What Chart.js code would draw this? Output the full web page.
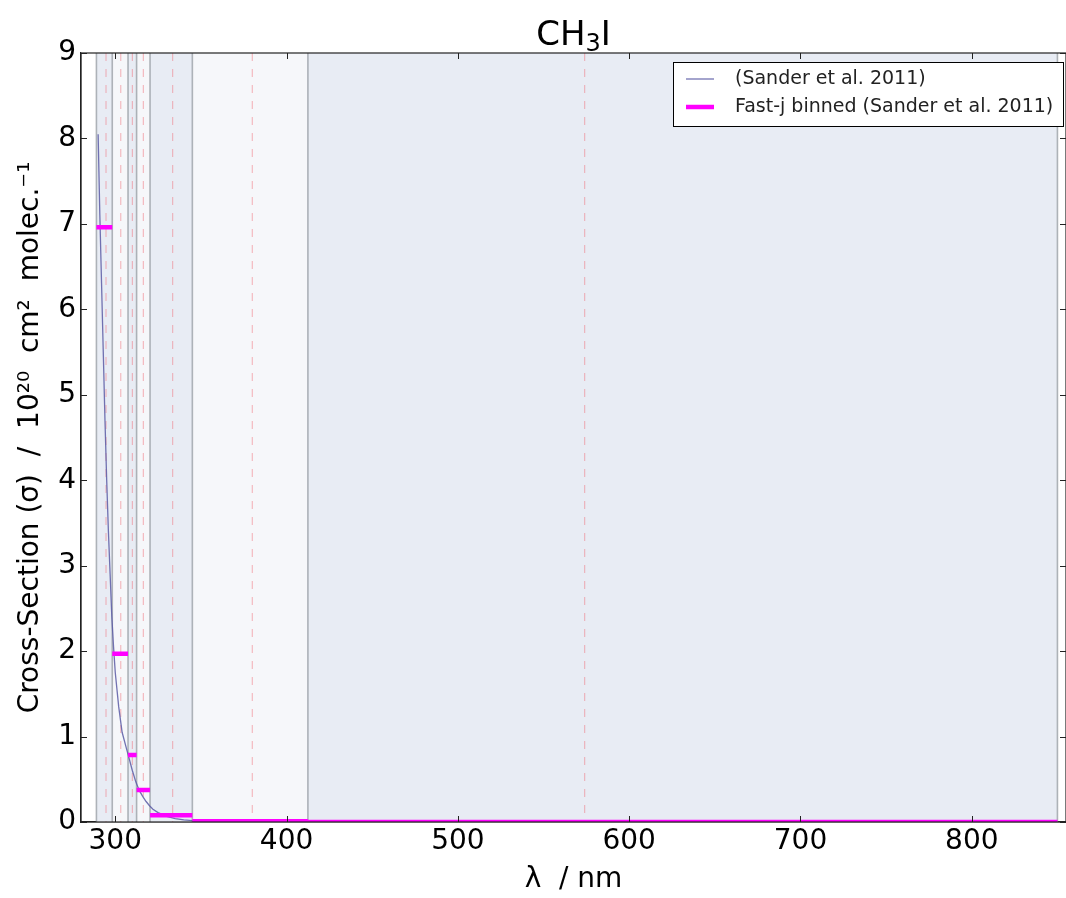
<!DOCTYPE html>
<html>
<head>
<meta charset="utf-8">
<script src="https://cdn.jsdelivr.net/npm/chart.js@4.4.1/dist/chart.umd.min.js"></script>
<style>
  html, body { margin: 0; padding: 0; background: #fff; overflow: hidden; }
  #wrap { width: 1076px; height: 898px; }
</style>
</head>
<body>
<div id="wrap"><canvas id="c" width="1076" height="898"></canvas></div>
<script>
// CH3I absorption cross-section (units of 1e-20 cm2 molec-1)
const wavelength = [290, 291, 292, 293, 294, 295, 296, 297, 298, 299, 300, 302, 304, 306, 308, 310,
                    312, 314, 316, 318, 320, 322, 325, 330, 335, 340, 345, 350, 355, 360, 365];
const sigma      = [8.05, 7.1, 6.3, 5.5, 4.7, 4.0, 3.4, 2.9, 2.4, 2.05, 1.75, 1.35, 1.05, 0.9, 0.75, 0.6,
                    0.47, 0.37, 0.3, 0.24, 0.19, 0.15, 0.11, 0.065, 0.04, 0.025, 0.015, 0.01, 0.006, 0.004, 0.002];

// Fast-J wavelength bins: edges, binned cross-sections and effective wavelengths
const binEdges    = [289.0, 298.25, 307.45, 312.45, 320.3, 345.0, 412.45, 850.0];
const binnedSigma = [6.96, 1.97, 0.785, 0.375, 0.08, 0.01, 0.0];
const binCentres  = [294.6, 303.2, 310.0, 316.4, 333.5, 380.0, 574.0];

// Axis ticks
const xTicks = [300, 400, 500, 600, 700, 800];
const yTicks = [0, 1, 2, 3, 4, 5, 6, 7, 8, 9];

const FONT = "'DejaVu Sans', sans-serif";

const curvePoints = wavelength.map((w, i) => ({ x: w, y: sigma[i] }));
const stepPoints = [];
binnedSigma.forEach((v, i) => {
  stepPoints.push({ x: binEdges[i], y: v }, { x: binEdges[i + 1], y: v }, { x: binEdges[i + 1], y: null });
});

const decor = {
  id: 'decor',
  beforeDatasetsDraw(chart) {
    const { ctx, chartArea: a, scales: { x } } = chart;
    ctx.save();
    ctx.beginPath();
    ctx.rect(a.left, a.top, a.right - a.left, a.bottom - a.top);
    ctx.clip();
    // alternating bin shading
    for (let i = 0; i < binEdges.length - 1; i++) {
      const x0 = x.getPixelForValue(binEdges[i]);
      const x1 = x.getPixelForValue(binEdges[i + 1]);
      ctx.fillStyle = i % 2 === 0 ? 'rgb(232,236,244)' : 'rgb(246,247,250)';
      ctx.fillRect(x0, a.top, x1 - x0, a.bottom - a.top);
    }
    // bin edges
    ctx.strokeStyle = 'rgba(150,155,162,0.75)';
    ctx.lineWidth = 1.6;
    binEdges.forEach(e => {
      const px = x.getPixelForValue(e);
      ctx.beginPath(); ctx.moveTo(px, a.top); ctx.lineTo(px, a.bottom); ctx.stroke();
    });
    // effective wavelengths
    ctx.strokeStyle = 'rgba(240,110,120,0.45)';
    ctx.lineWidth = 1.2;
    ctx.setLineDash([8, 8]);
    binCentres.forEach(c => {
      const px = x.getPixelForValue(c);
      ctx.beginPath(); ctx.moveTo(px, a.top); ctx.lineTo(px, a.bottom); ctx.stroke();
    });
    ctx.restore();
  },
  afterDraw(chart) {
    const { ctx, chartArea: a, scales: { x, y } } = chart;
    ctx.save();
    // frame
    ctx.strokeStyle = '#222';
    ctx.lineWidth = 1.2;
    ctx.strokeRect(a.left, a.top, a.right - a.left, a.bottom - a.top);
    // inward tick marks
    ctx.lineWidth = 1;
    xTicks.forEach(v => {
      const px = Math.round(x.getPixelForValue(v)) + 0.5;
      ctx.beginPath(); ctx.moveTo(px, a.bottom); ctx.lineTo(px, a.bottom - 6); ctx.stroke();
      ctx.beginPath(); ctx.moveTo(px, a.top); ctx.lineTo(px, a.top + 6); ctx.stroke();
    });
    yTicks.forEach(v => {
      const py = Math.round(y.getPixelForValue(v)) + 0.5;
      ctx.beginPath(); ctx.moveTo(a.left, py); ctx.lineTo(a.left + 6, py); ctx.stroke();
      ctx.beginPath(); ctx.moveTo(a.right, py); ctx.lineTo(a.right - 6, py); ctx.stroke();
    });

    // title with subscript
    const cx = (a.left + a.right) / 2;
    const big = 'normal 34px ' + FONT, small = 'normal 24px ' + FONT;
    ctx.fillStyle = '#000';
    ctx.textBaseline = 'alphabetic';
    ctx.font = big; const wCH = ctx.measureText('CH').width; const wI = ctx.measureText('I').width;
    ctx.font = small; const w3 = ctx.measureText('3').width;
    let tx = cx - (wCH + w3 + wI) / 2;
    const base = 45;
    ctx.textAlign = 'left';
    ctx.font = big; ctx.fillText('CH', tx, base); tx += wCH;
    ctx.font = small; ctx.fillText('3', tx, base + 6); tx += w3;
    ctx.font = big; ctx.fillText('I', tx, base);

    // legend
    const ds = chart.data.datasets;
    const lx = 673, ly = 62, lw = 390, lh = 64;
    ctx.fillStyle = '#fff';
    ctx.fillRect(lx, ly, lw, lh);
    ctx.strokeStyle = '#000';
    ctx.lineWidth = 1;
    ctx.strokeRect(lx + 0.5, ly + 0.5, lw, lh);
    ctx.font = 'normal 19px ' + FONT;
    ctx.textBaseline = 'middle';
    const rows = [ds.find(d => d.label === '(Sander et al. 2011)'), ds.find(d => d.label !== '(Sander et al. 2011)')];
    rows.forEach((d, i) => {
      const ry = ly + 17 + i * 28;
      ctx.strokeStyle = d.borderColor;
      ctx.lineWidth = d.borderWidth;
      ctx.beginPath(); ctx.moveTo(lx + 13, ry); ctx.lineTo(lx + 41, ry); ctx.stroke();
      ctx.fillStyle = '#222';
      ctx.fillText(d.label, lx + 62, ry);
    });
    ctx.restore();
  }
};

new Chart(document.getElementById('c'), {
  type: 'line',
  data: {
    datasets: [
      {
        label: 'Fast-j binned (Sander et al. 2011)',
        data: stepPoints,
        borderColor: '#ff00ff',
        borderWidth: 4.5,
        pointRadius: 0,
        spanGaps: false,
        clip: 0,
        order: 0
      },
      {
        label: '(Sander et al. 2011)',
        data: curvePoints,
        borderColor: 'rgba(90,90,165,0.85)',
        borderWidth: 1.3,
        pointRadius: 0,
        tension: 0,
        clip: 0,
        order: 1
      }
    ]
  },
  options: {
    responsive: false,
    animation: false,
    devicePixelRatio: 1,
    layout: { padding: { top: 53, right: 10, left: 0, bottom: 0 } },
    plugins: { legend: { display: false }, tooltip: { enabled: false }, title: { display: false } },
    scales: {
      x: {
        type: 'linear',
        min: 280, max: 855,
        grid: { display: false, drawTicks: false },
        border: { display: true, color: '#222', width: 1.2 },
        afterBuildTicks: s => { s.ticks = xTicks.map(v => ({ value: v })); },
        afterFit: s => { s.height = 76; },
        ticks: { color: '#000', font: { family: FONT, size: 28 }, padding: 3, maxRotation: 0 },
        title: { display: true, text: 'λ  / nm', color: '#000', font: { family: FONT, size: 28 }, padding: { top: 0, bottom: 1 } }
      },
      y: {
        type: 'linear',
        min: 0, max: 9,
        grid: { display: false, drawTicks: false },
        border: { display: true, color: '#222', width: 1.2 },
        afterBuildTicks: s => { s.ticks = yTicks.map(v => ({ value: v })); },
        afterFit: s => { s.width = 81; },
        ticks: { color: '#000', font: { family: FONT, size: 28 }, padding: 5 },
        title: { display: true, text: 'Cross-Section (σ)  /  10²⁰  cm²  molec.⁻¹', color: '#000', font: { family: FONT, size: 28 }, padding: { top: 14, bottom: 0 } }
      }
    }
  },
  plugins: [decor]
});
</script>
</body>
</html>
